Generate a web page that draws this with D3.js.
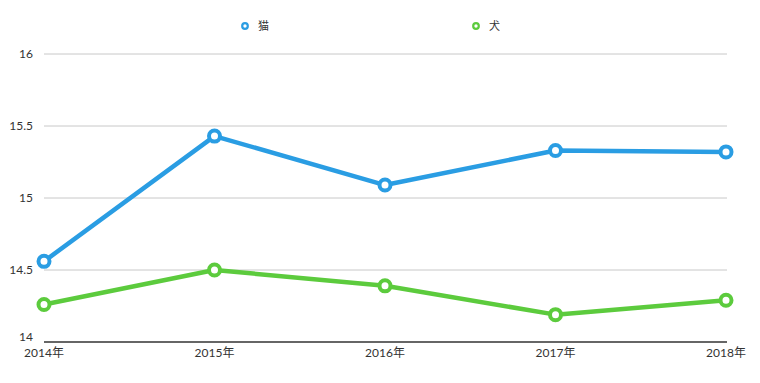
<!DOCTYPE html>
<html><head><meta charset="utf-8">
<script src="https://cdn.jsdelivr.net/npm/d3@7"></script>
<style>body{margin:0;background:#fff}svg{display:block}text{font-family:"Lato","Noto Sans CJK JP",sans-serif}</style>
</head><body>
<script>
const categories = ["2014年","2015年","2016年","2017年","2018年"];
const catValues = [14.56,15.43,15.09,15.33,15.32];
const dogValues = [14.26,14.5,14.39,14.19,14.29];
const seriesNames = ["猫","犬"];
const yTicks = [14,14.5,15,15.5,16];
const colors = ["#2a9de3","#5ccb3d"];

const W=760,H=383;
const svg=d3.select("body").append("svg").attr("width",W).attr("height",H);
const x=d3.scalePoint().domain(categories).range([44,726]);
const y=d3.scaleLinear().domain([14,16]).range([342,54]);

// gridlines
svg.append("g").selectAll("line").data(yTicks.filter(t=>t>14)).join("line")
  .attr("x1",44).attr("x2",727).attr("y1",d=>y(d)).attr("y2",d=>y(d))
  .attr("stroke","#c8c8c8").attr("stroke-width",1);

// y labels
svg.append("g").selectAll("text").data(yTicks).join("text")
  .attr("x",33).attr("y",d=>d===14?y(d)-5:y(d)).attr("dy","0.35em").attr("text-anchor","end")
  .attr("font-size",12).attr("fill","#333").text(d=>d);

// x axis line
svg.append("line").attr("x1",44).attr("x2",727).attr("y1",y(14)).attr("y2",y(14))
  .attr("stroke","#666").attr("stroke-width",2);
svg.append("g").selectAll("text").data(categories).join("text")
  .attr("x",d=>x(d)).attr("y",353).attr("dy","0.35em").attr("text-anchor","middle")
  .attr("font-size",12).attr("fill","#333").text(d=>d);

const series=[catValues,dogValues];
const line=d3.line().x((d,i)=>x(categories[i])).y(d=>y(d));
series.forEach((vals,si)=>{
  svg.append("path").datum(vals).attr("d",line).attr("fill","none")
    .attr("stroke",colors[si]).attr("stroke-width",4.5).attr("stroke-linejoin","round");
  svg.append("g").selectAll("circle").data(vals).join("circle")
    .attr("cx",(d,i)=>x(categories[i])).attr("cy",d=>y(d)).attr("r",5.5)
    .attr("fill","#fff").attr("stroke",colors[si]).attr("stroke-width",4);
});

// legend
const legX=[245,476];
seriesNames.forEach((n,i)=>{
  svg.append("circle").attr("cx",legX[i]).attr("cy",26).attr("r",2.8)
    .attr("fill","#fff").attr("stroke",colors[i]).attr("stroke-width",2.2);
  svg.append("text").attr("x",legX[i]+13).attr("y",26).attr("dy","0.35em")
    .attr("font-size",11).attr("fill","#333").text(n);
});
</script>
</body></html>
